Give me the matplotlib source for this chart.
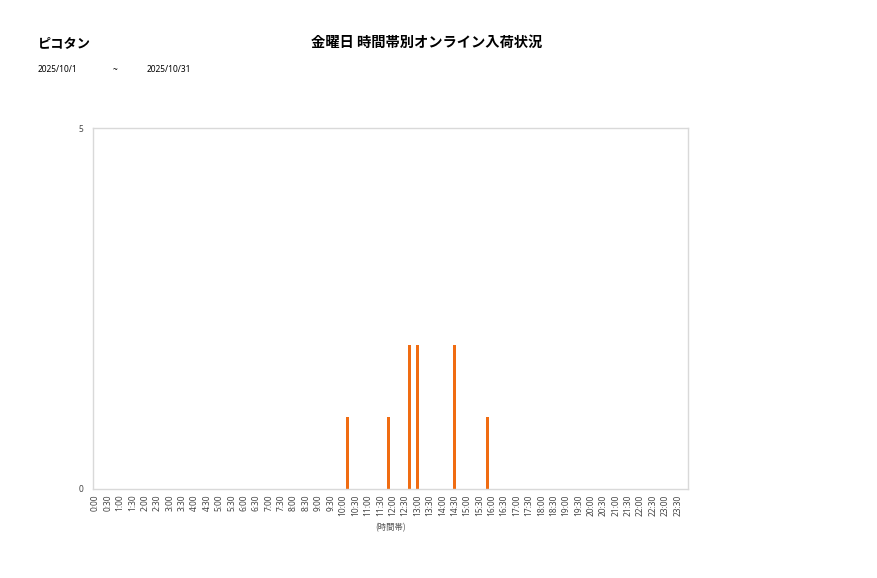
import numpy as np
import matplotlib
matplotlib.use("Agg")
import matplotlib.pyplot as plt

plt.rcParams['font.family'] = ['Noto Sans CJK JP', 'DejaVu Sans']

# 10-minute time slots for the whole day, labels every 30 minutes
slots = [f"{h}:{m:02d}" for h in range(24) for m in range(0, 60, 10)]
arrival_times = ["10:10", "11:50", "12:40", "13:00", "14:30", "15:50"]
arrival_counts = [1, 1, 2, 2, 2, 1]

counts = np.zeros(len(slots))
for t, c in zip(arrival_times, arrival_counts):
    counts[slots.index(t)] = c

store = "ピコタン"
title = "金曜日 時間帯別オンライン入荷状況"
date_from = "2025/10/1"
date_to = "2025/10/31"

num_font = ['Noto Sans', 'DejaVu Sans']

fig = plt.figure(figsize=(8.77, 5.78), dpi=100)
ax = fig.add_axes([0.1064, 0.154, 0.6781, 0.6245])

x = np.arange(len(slots))
ax.bar(x, counts, width=0.65, color="#F06C12")

ax.set_xlim(-0.5, len(slots) - 0.5)
ax.set_ylim(0, 5)
ax.set_yticks([0, 5])
ax.set_xticks(x[::3])
ax.set_xticklabels(slots[::3], rotation=90, fontsize=6, color="#444444",
                   family=num_font)
ax.set_yticklabels(["0", "5"], fontsize=6, color="#444444", family=num_font)
ax.tick_params(axis="both", length=0)
ax.tick_params(axis="x", pad=4)
ax.tick_params(axis="y", pad=7)
for s in ax.spines.values():
    s.set_color("#D9D9D9")
    s.set_linewidth(1.0)
ax.set_xlabel("(時間帯)", fontsize=6, color="#555555", labelpad=5)

fig.text(38 / 877, 1 - 43 / 578, store, fontsize=9.5, fontweight="bold",
         va="center", ha="left")
fig.text(427 / 877, 1 - 43 / 578, title, fontsize=10.3, fontweight="bold",
         va="center", ha="center")
fig.text(38 / 877, 1 - 70 / 578, date_from, fontsize=6, va="center", ha="left",
         family=num_font)
fig.text(113 / 877, 1 - 70 / 578, "~", fontsize=6, va="center", ha="left",
         family=num_font)
fig.text(147 / 877, 1 - 70 / 578, date_to, fontsize=6, va="center", ha="left",
         family=num_font)

fig.savefig("out.png", dpi=100)
